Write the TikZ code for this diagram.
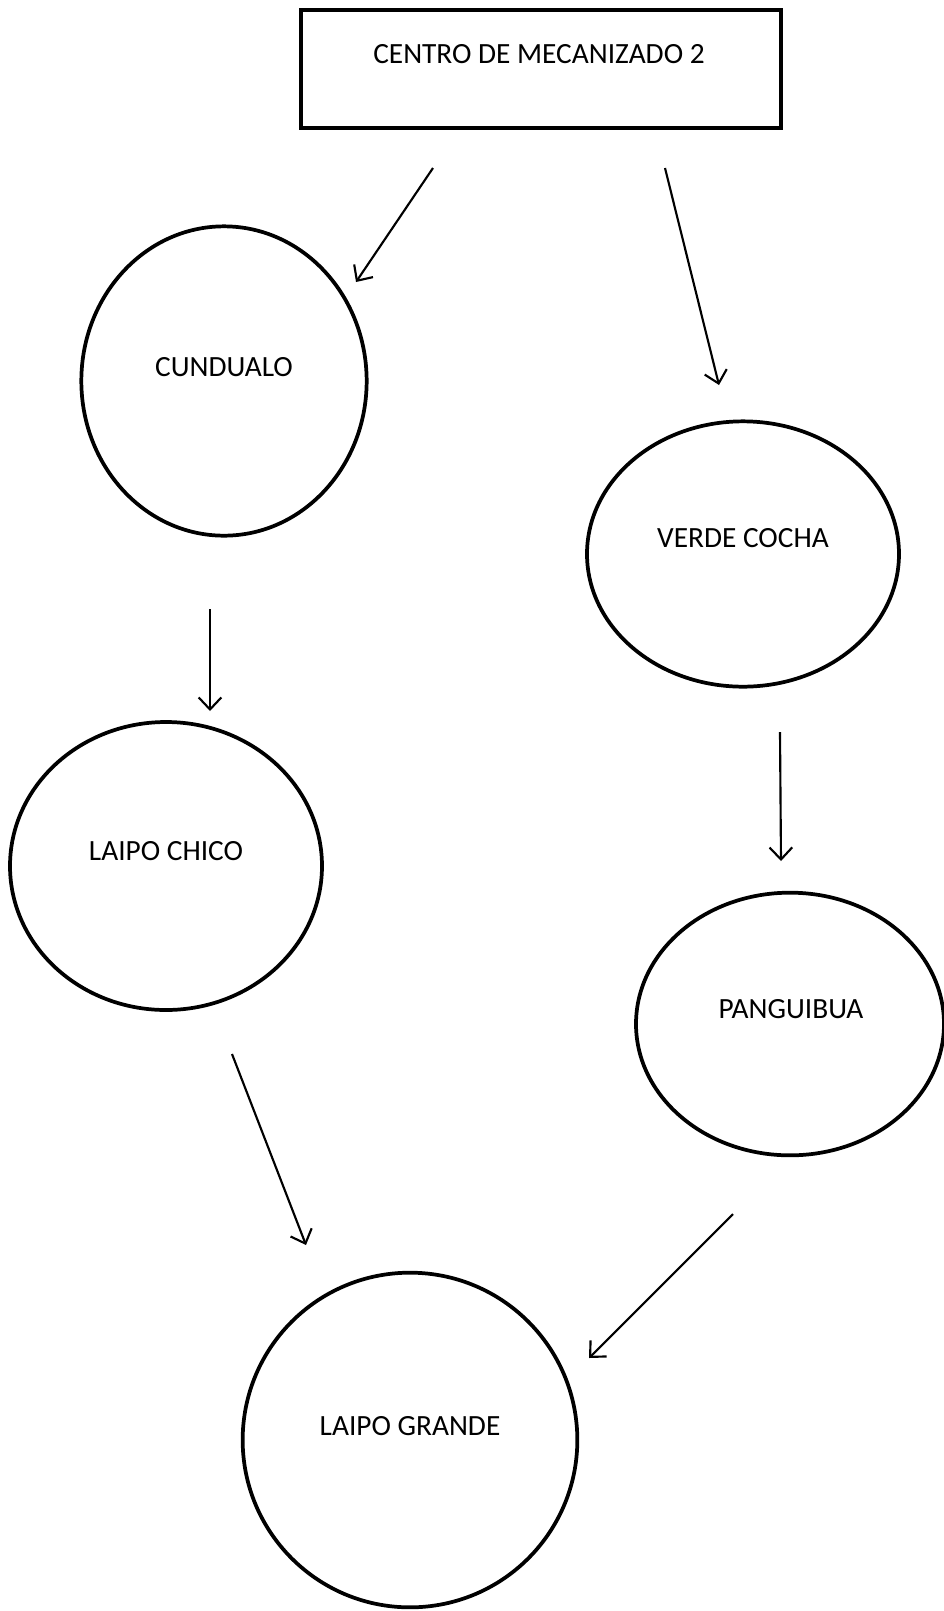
\documentclass[tikz,border=0pt]{standalone}
\usepackage{fontspec}
\setmainfont{Carlito}
\usetikzlibrary{arrows.meta,shapes.geometric}

\tikzset{every picture/.style={line width=0.75pt}}
\tikzset{
  place/.style={draw, ellipse, line width=2.8pt, inner sep=0pt},
  lbl/.style={inner sep=0.75pt, font=\fontsize{22}{26}\selectfont},
  flow/.style={line width=1.6pt, -{Straight Barb[length=9pt,width=17pt,line width=1.6pt]}}
}

\begin{document}
\begin{tikzpicture}[x=0.75pt,y=0.75pt,yscale=-1,xscale=1]
\useasboundingbox (0,0) rectangle (944,1611);

% Rectangle
\draw (541,69) node [draw, line width=3pt, minimum width=360pt, minimum height=89pt, inner sep=0pt] (centro) {};
% Ellipses
\draw (224,381) node [place, minimum width=214pt, minimum height=232pt] (cundualo) {};
\draw (743,554) node [place, minimum width=234pt, minimum height=199pt] (verde) {};
\draw (166,866) node [place, minimum width=234pt, minimum height=216pt] (chico) {};
\draw (790,1024) node [place, minimum width=231pt, minimum height=197pt] (panguibua) {};
\draw (410,1440) node [place, minimum width=251pt, minimum height=251pt] (grande) {};

% Text Node
\draw (539,54) node [lbl] (centro-t) {CENTRO DE MECANIZADO 2};
% Text Node
\draw (224,367) node [lbl] (cundualo-t) {CUNDUALO};
% Text Node
\draw (743,538) node [lbl] (verde-t) {VERDE COCHA};
% Text Node
\draw (166,851) node [lbl] (chico-t) {LAIPO CHICO};
% Text Node
\draw (791,1009) node [lbl] (panguibua-t) {PANGUIBUA};
% Text Node
\draw (410,1426) node [lbl] (grande-t) {LAIPO GRANDE};

% Arrow ends
\coordinate (a1) at (433,168); \coordinate (b1) at (356,282);
\coordinate (a2) at (665,168); \coordinate (b2) at (719,385);
\coordinate (a3) at (210,609); \coordinate (b3) at (210,711);
\coordinate (a4) at (780,732); \coordinate (b4) at (781,861);
\coordinate (a5) at (232,1054); \coordinate (b5) at (306,1245);
\coordinate (a6) at (733,1214); \coordinate (b6) at (589,1358);

\draw [flow] (a1) -- (b1);
\draw [flow] (a2) -- (b2);
\draw [flow] (a3) -- (b3);
\draw [flow] (a4) -- (b4);
\draw [flow] (a5) -- (b5);
\draw [flow] (a6) -- (b6);

\end{tikzpicture}
\end{document}
